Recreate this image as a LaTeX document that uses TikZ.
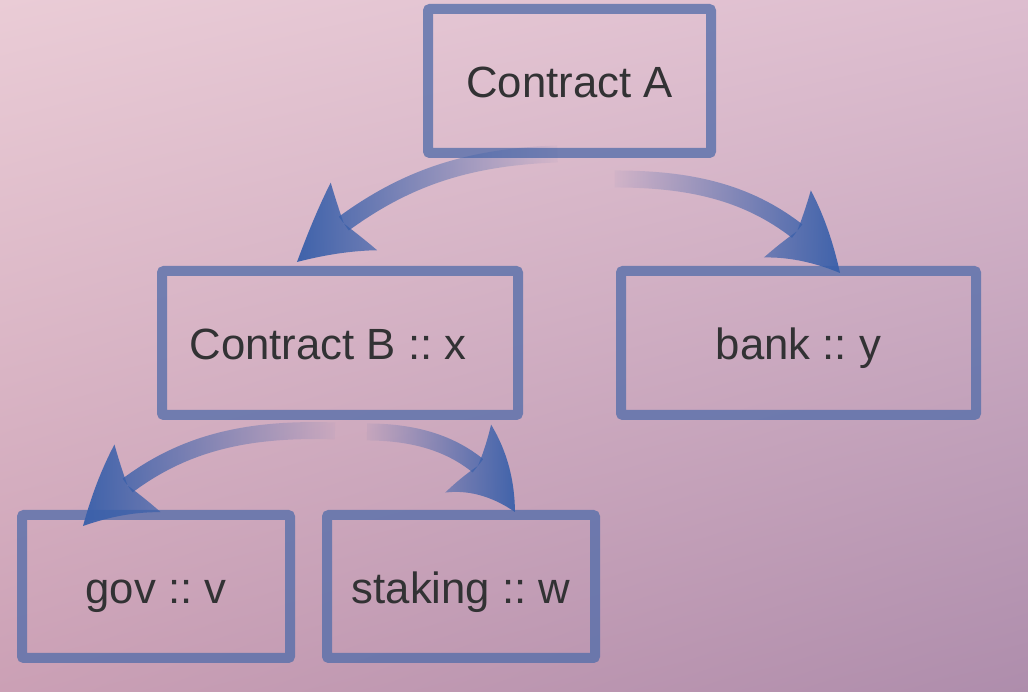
\documentclass[tikz,border=0pt]{standalone}
\usepackage{fontspec}
\setmainfont{Liberation Sans}
\usetikzlibrary{arrows.meta,bending,fadings,calc,shadings}
\definecolor{bgTL}{RGB}{234,204,214}
\definecolor{bgTR}{RGB}{221,189,207}
\definecolor{bgBL}{RGB}{203,160,181}
\definecolor{bgBR}{RGB}{174,141,172}
\definecolor{boxblue}{RGB}{85,110,170}
\definecolor{arrowblue}{RGB}{58,96,170}
\definecolor{txtgrey}{RGB}{50,50,52}
\begin{document}
\frenchspacing
\begin{tikzpicture}[x=1pt,y=1pt,
  box/.style={draw=boxblue, draw opacity=0.78, line width=10pt, rounded corners=2pt,
    inner sep=0pt, text=txtgrey, text height=34pt, text depth=0pt,
    font=\fontsize{43.7}{50}\selectfont},
  flow/.style={line width=17pt, draw=arrowblue,
    -{Stealth[length=78pt,width=82pt,inset=14pt,line width=0pt,bend]}},
]
\shade[upper left=bgTL, upper right=bgTR, lower left=bgBL, lower right=bgBR]
  (0,0) rectangle (1028,692);
\useasboundingbox (0,0) rectangle (1028,692);

\node[box, minimum width=283pt, minimum height=144pt] (A) at (569.5,611) {Contract A};
\node[box, minimum width=356pt, minimum height=144pt] (B) at (340,349) {Contract B :: x\hspace*{24pt}};
\node[box, minimum width=355pt, minimum height=144pt] (bank) at (798.5,349) {bank :: y};
\node[box, minimum width=268pt, minimum height=143pt] (gov) at (156,105.5) {gov :: v};
\node[box, minimum width=268pt, minimum height=143pt] (stk) at (461,105.5) {staking :: w};

\coordinate (aLs) at ($(A.south)+(-12,4)$);
\coordinate (aLt) at ($(B.north)+(-43,4)$);
\coordinate (aRs) at ($(A.south)+(45,-21)$);
\coordinate (aRt) at ($(bank.north)+(41.5,-7)$);
\coordinate (bLs) at ($(B.south)+(-5,-11)$);
\coordinate (bLt) at ($(gov.north)+(-73,-16)$);
\coordinate (bRs) at ($(B.south)+(27,-12)$);
\coordinate (bRt) at ($(stk.north)+(54,-2)$);

\draw[flow, path fading=east] (aLs) to[out=182, in=42] (aLt);
\draw[flow, path fading=west] (aRs) to[out=0, in=130] (aRt);
\draw[flow, path fading=east] (bLs) to[out=178, in=47] (bLt);
\draw[flow, path fading=west] (bRs) to[out=0, in=118] (bRt);
\end{tikzpicture}
\end{document}
